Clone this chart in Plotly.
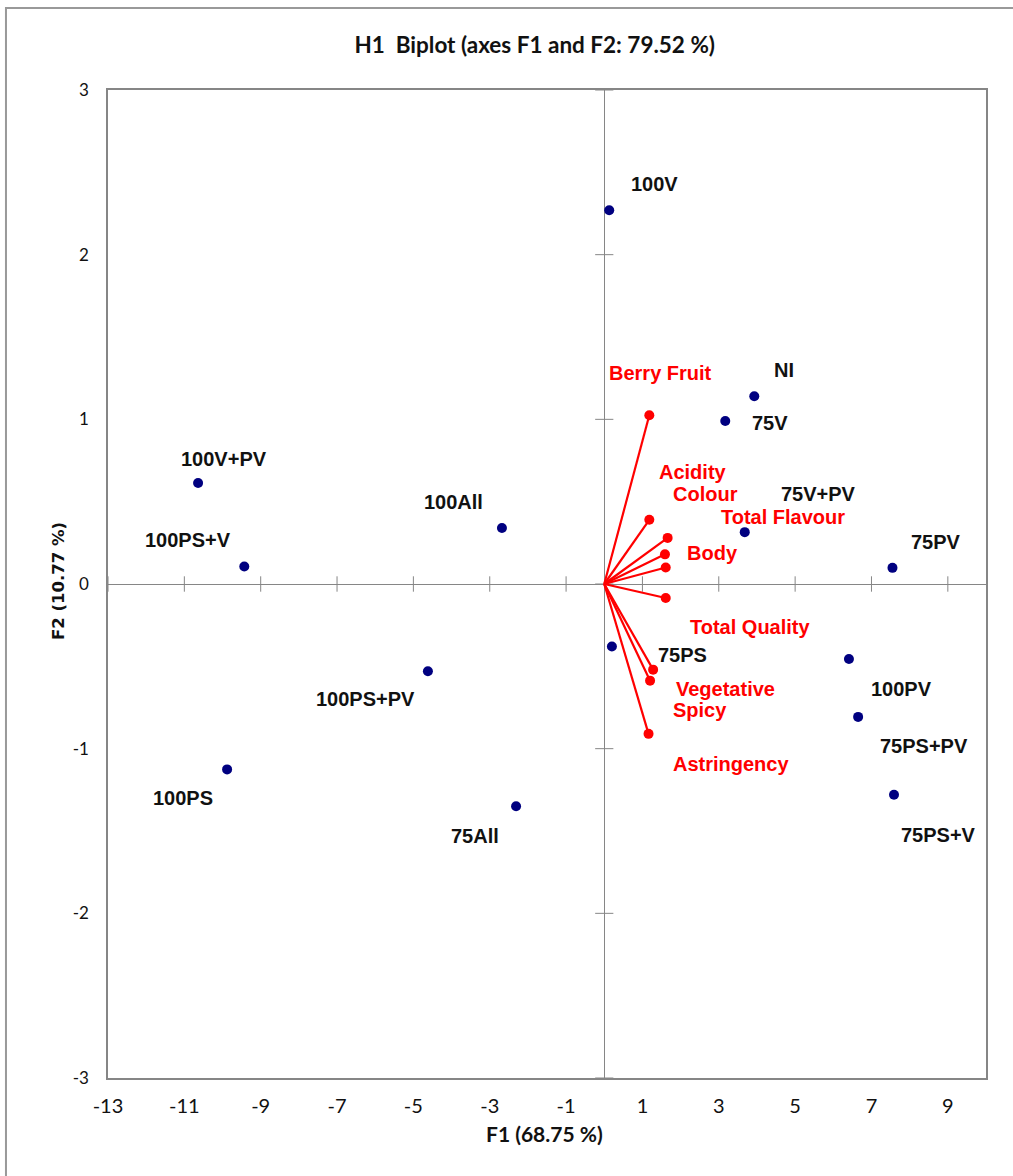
import plotly.graph_objects as go

# ---------------- data ----------------
obs_names = ["100V", "NI", "75V", "75V+PV", "75PV", "100V+PV", "100PS+V", "100All",
             "100PS+PV", "100PS", "75All", "75PS", "100PV", "75PS+PV", "75PS+V"]
obs_f1 = [0.13, 3.93, 3.17, 3.68, 7.55, -10.64, -9.43, -2.68,
          -4.62, -9.88, -2.31, 0.20, 6.41, 6.65, 7.59]
obs_f2 = [2.27, 1.14, 0.99, 0.315, 0.098, 0.613, 0.106, 0.34,
          -0.53, -1.126, -1.35, -0.38, -0.455, -0.807, -1.28]

var_names = ["Berry Fruit", "Acidity", "Colour", "Total Flavour", "Body",
             "Total Quality", "Vegetative", "Spicy", "Astringency"]
var_f1 = [1.18, 1.18, 1.66, 1.59, 1.61, 1.61, 1.28, 1.20, 1.16]
var_f2 = [1.025, 0.39, 0.28, 0.18, 0.10, -0.085, -0.52, -0.587, -0.91]

x_ticks = [-13, -11, -9, -7, -5, -3, -1, 1, 3, 5, 7, 9]
y_ticks = [-3, -2, -1, 0, 1, 2, 3]

title_text = "H1  Biplot (axes F1 and F2: 79.52 %)"
x_title = "F1 (68.75 %)"
y_title = "F2 (10.77 %)"

# label offsets in pixels (dx right, dy down)
obs_offsets = [(45, -26), (30, -26), (45, 2), (74, -38), (44, -26), (26, -24), (-56, -27),
               (-48, -26), (-62, 28), (-44, 29), (-41, 30), (71, 8), (53, 30), (66, 29), (44, 40)]
var_offsets = [(11, -42), (44, -48), (38, -44), (118, -37), (47, -15), (85, 29),
               (72, 19), (50, 29), (82, 30)]

NAVY = "#000080"
RED = "#FF0000"
GRAY = "#868686"
LABEL_FONT = "Liberation Sans, Arial, sans-serif"
NARROW_FONT = "Liberation Sans Narrow, Arial Narrow, Lato, sans-serif"

fig = go.Figure()

# tick marks crossing the zero lines
fig.add_trace(go.Scatter(x=x_ticks, y=[0] * len(x_ticks), mode="markers",
                         marker=dict(symbol="line-ns", size=11, line=dict(color=GRAY, width=1)),
                         hoverinfo="skip", showlegend=False))
fig.add_trace(go.Scatter(x=[0] * len(y_ticks), y=y_ticks, mode="markers",
                         marker=dict(symbol="line-ew", size=13, line=dict(color=GRAY, width=1)),
                         hoverinfo="skip", showlegend=False))

# variable vectors
vx, vy = [], []
for a, b in zip(var_f1, var_f2):
    vx += [0, a, None]
    vy += [0, b, None]
fig.add_trace(go.Scatter(x=vx, y=vy, mode="lines", line=dict(color=RED, width=2.2),
                         hoverinfo="skip", showlegend=False))
fig.add_trace(go.Scatter(x=var_f1, y=var_f2, mode="markers", text=var_names,
                         marker=dict(color=RED, size=10), showlegend=False))

# observations
fig.add_trace(go.Scatter(x=obs_f1, y=obs_f2, mode="markers", text=obs_names,
                         marker=dict(color=NAVY, size=10), showlegend=False))

annotations = []
for n, a, b, (dx, dy) in zip(obs_names, obs_f1, obs_f2, obs_offsets):
    annotations.append(dict(x=a, y=b, xref="x", yref="y", text=n, showarrow=False,
                            xshift=dx, yshift=-dy,
                            font=dict(family=LABEL_FONT, size=20, color="#111111", weight="bold")))
for n, a, b, (dx, dy) in zip(var_names, var_f1, var_f2, var_offsets):
    annotations.append(dict(x=a, y=b, xref="x", yref="y", text=n, showarrow=False,
                            xshift=dx, yshift=-dy,
                            font=dict(family=LABEL_FONT, size=20, color=RED, weight="bold")))

# axis titles
annotations.append(dict(x=0.497, y=-0.056, xref="paper", yref="paper", text=x_title,
                        showarrow=False, xanchor="center", yanchor="middle",
                        font=dict(family=NARROW_FONT, size=21, color="#111111", weight="bold")))
annotations.append(dict(x=-0.057, y=0.503, xref="paper", yref="paper", text=y_title,
                        showarrow=False, textangle=-90, xanchor="center", yanchor="middle",
                        font=dict(family="DejaVu Sans, sans-serif", size=16.5, color="#111111",
                                  weight="bold")))

fig.update_layout(
    width=1013, height=1176,
    margin=dict(l=108, r=27, t=90, b=98),
    paper_bgcolor="white", plot_bgcolor="white",
    title=dict(text=title_text, x=0.486, xref="paper", xanchor="center",
               y=1 - 45 / 1176, yref="container", yanchor="middle",
               font=dict(family=NARROW_FONT, size=22.5, color="#111111", weight="bold")),
    annotations=annotations,
    shapes=[dict(type="rect", xref="paper", yref="paper", x0=-0.1162, x1=1.2,
                 y0=-0.3, y1=1.083, line=dict(color="#999999", width=2), layer="below")],
    showlegend=False,
)
fig.update_xaxes(range=[-13, 10], tickvals=x_ticks, ticktext=[str(v) for v in x_ticks],
                 showgrid=False, zeroline=True, zerolinecolor=GRAY, zerolinewidth=1,
                 showline=True, mirror=True, linecolor=GRAY, linewidth=1.5,
                 ticks="", ticklabelstandoff=9,
                 tickfont=dict(family=NARROW_FONT, size=20, color="#111111"))
fig.update_yaxes(range=[-3, 3], tickvals=y_ticks, ticktext=[str(v) for v in y_ticks],
                 showgrid=False, zeroline=True, zerolinecolor=GRAY, zerolinewidth=1,
                 showline=True, mirror=True, linecolor=GRAY, linewidth=1.5,
                 ticks="", ticklabelstandoff=14,
                 tickfont=dict(family=NARROW_FONT, size=17, color="#111111"))

fig.write_html("out.html")
